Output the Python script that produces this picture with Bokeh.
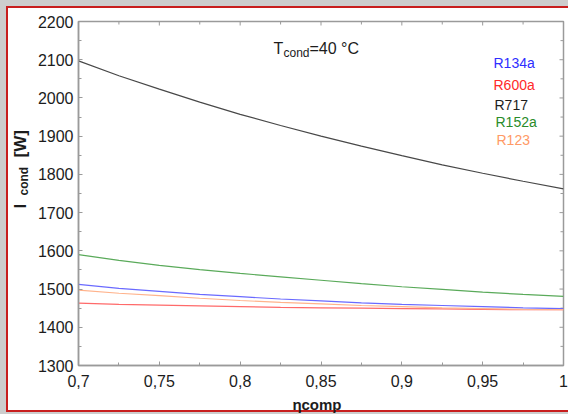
import math
from bokeh.plotting import figure
from bokeh.models import Range1d, LinearAxis, FixedTicker, CustomJSTickFormatter, Label
from bokeh.core.properties import value
from bokeh.embed import file_html
from bokeh.resources import INLINE

# ---------------- data ----------------
eta = [0.7, 0.725, 0.75, 0.775, 0.8, 0.825, 0.85, 0.875, 0.9, 0.925, 0.95, 0.975, 1.0]
r717 = [2097, 2058, 2023, 1989, 1957, 1928, 1900, 1874, 1849, 1825, 1803, 1782, 1762]
r152a = [1590, 1575, 1562, 1551, 1541, 1532, 1523, 1514, 1506, 1499, 1492, 1486, 1481]
r134a = [1512, 1502, 1494, 1486, 1480, 1474, 1469, 1464, 1460, 1457, 1454, 1451, 1449]
r123 = [1497, 1489, 1483, 1476, 1470, 1465, 1461, 1457, 1454, 1451, 1449, 1447, 1446]
r600a = [1463, 1460, 1458, 1456, 1454, 1452, 1451, 1450, 1449, 1448, 1447, 1446, 1446]

legend_names = ["R134a", "R600a", "R717", "R152a", "R123"]
x_ticks = [0.7, 0.75, 0.8, 0.85, 0.9, 0.95, 1.0]
x_minor = [0.725, 0.775, 0.825, 0.875, 0.925, 0.975]
y_ticks = [1300, 1400, 1500, 1600, 1700, 1800, 1900, 2000, 2100, 2200]
y_minor = [1350, 1450, 1550, 1650, 1750, 1850, 1950, 2050, 2150]
title_parts = ["T", "cond", "=40 °C"]
ylabel_parts = ["I", "cond", "[W]"]
xlabel_parts = ["η", "comp"]

# ---------------- styling ----------------
FONT = "Liberation Sans"
AX = "#9a9a9a"
TXT = "#1c1c1c"

W, H = 568, 414
LB, RB, TB, BB = 78, 5, 21, 49
FW = W - LB - RB
FH = H - TB - BB
XMIN, XMAX, YMIN, YMAX = 0.7, 1.0, 1300, 2200

p = figure(width=W, height=H, x_range=Range1d(XMIN, XMAX), y_range=Range1d(YMIN, YMAX),
           output_backend="svg", toolbar_location=None,
           min_border_left=LB, min_border_right=RB, min_border_top=TB, min_border_bottom=BB,
           x_axis_type=None, y_axis_type=None)
p.grid.visible = False
p.background_fill_color = "white"
p.border_fill_alpha = 0
p.outline_line_color = AX
p.outline_line_width = 1.5
p.styles = {
    "background-color": "white",
    "box-shadow": ("inset 6px 6px 0 0 #cdcdcd, inset 0 -2px 0 0 #cdcdcd, "
                   "inset 8px 8px 0 0 #c81e1e, inset 0 -4px 0 0 #c81e1e"),
}

fmt = CustomJSTickFormatter(code="const v = Math.round(tick*1000)/1000; return v.toString().replace('.', ',');")

def style_axis(ax):
    ax.axis_line_color = AX
    ax.axis_line_width = 1.5
    ax.major_tick_line_color = AX
    ax.minor_tick_line_color = AX
    ax.major_tick_in = 4
    ax.major_tick_out = 0
    ax.minor_tick_in = 3
    ax.minor_tick_out = 0
    ax.major_label_text_font = FONT
    ax.major_label_text_font_size = "16px"
    ax.major_label_text_color = TXT

xb = LinearAxis(ticker=FixedTicker(ticks=x_ticks, minor_ticks=x_minor), formatter=fmt)
style_axis(xb)
xb.major_label_standoff = 9
p.add_layout(xb, "below")
yl = LinearAxis(ticker=FixedTicker(ticks=y_ticks, minor_ticks=y_minor), formatter=fmt)
style_axis(yl)
yl.major_label_standoff = 5
p.add_layout(yl, "left")

# inward ticks on the top and right frame edges
p.scatter(x_ticks, [YMAX] * len(x_ticks), marker="dash", angle=math.pi / 2, size=8,
          line_color=AX, line_width=1)
p.scatter(x_minor, [YMAX] * len(x_minor), marker="dash", angle=math.pi / 2, size=6,
          line_color=AX, line_width=1)
p.scatter([XMAX] * len(y_ticks), y_ticks, marker="dash", size=8, line_color=AX, line_width=1)
p.scatter([XMAX] * len(y_minor), y_minor, marker="dash", size=6, line_color=AX, line_width=1)

colors = ["#6a6aff", "#ff6a6a", "#484848", "#5aaa5a", "#ffb38c"]
series = [r134a, r600a, r717, r152a, r123]
for s, c in zip(series, colors):
    p.line(eta, s, line_color=c, line_width=1.2)

def dx(px):      # px offset from frame left
    return XMIN + px * (XMAX - XMIN) / FW
def dy_top(px):  # px below frame top
    return YMAX - px * (YMAX - YMIN) / FH

# in-plot legend texts
text_colors = ["#2e2eff", "#ff2a2a", "#1e1e1e", "#2a8c2a", "#ff9a66"]
leg_pos = [(415, 41.5), (415, 63), (416, 83), (417, 100), (418, 118)]
for name, c, (lx, ly) in zip(legend_names, text_colors, leg_pos):
    p.add_layout(Label(x=dx(lx), y=dy_top(ly), text=name, text_color=c,
                       text_font=FONT, text_font_size="14px",
                       text_align="left", text_baseline="middle"))

# title  T_cond=40 °C
p.add_layout(Label(x=dx(195), y=dy_top(27), text=title_parts[0], text_color=TXT,
                   text_font=FONT, text_font_size="16px", text_baseline="alphabetic"))
p.add_layout(Label(x=dx(205), y=dy_top(31), text=title_parts[1], text_color=TXT,
                   text_font=FONT, text_font_size="12px", text_baseline="alphabetic"))
p.add_layout(Label(x=dx(231), y=dy_top(27), text=title_parts[2], text_color=TXT,
                   text_font=FONT, text_font_size="16px", text_baseline="alphabetic"))

# axis titles drawn as unclipped text glyphs outside the frame
def outside_text(px, py, txt, size, angle=0.0, align="left", baseline="alphabetic"):
    p.text(x=[dx(px)], y=[dy_top(py)], text=[txt], angle=angle,
           text_font=value(FONT), text_font_size=size, text_font_style="bold",
           text_color=TXT, text_align=align, text_baseline=baseline, level="overlay")

ang = math.pi / 2
outside_text(-58, 187, ylabel_parts[0], "17px", ang, "left", "middle")
outside_text(-54.5, 174, ylabel_parts[1], "12px", ang, "left", "middle")
outside_text(-58.5, 136, ylabel_parts[2], "17px", ang, "left", "middle")

outside_text(214, 383, xlabel_parts[0], "15px")
outside_text(223, 383, xlabel_parts[1], "15px")

html = file_html(p, INLINE)
open("out.html", "w").write(html)
